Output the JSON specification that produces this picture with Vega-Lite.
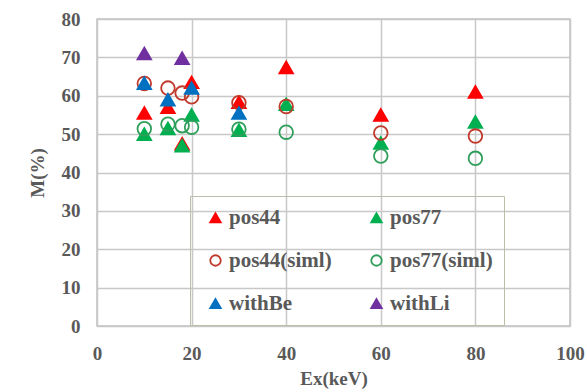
{
  "$schema": "https://vega.github.io/schema/vega-lite/v6.json",
  "autosize": "none",
  "width": 473,
  "height": 307,
  "padding": {"left": 97, "top": 19, "right": 17, "bottom": 66},
  "background": "white",
  "config": {
    "view": {"stroke": "#c0c0c0", "strokeWidth": 1.5},
    "font": "Liberation Serif",
    "legend": {
      "orient": "none",
      "legendX": 93,
      "legendY": 177,
      "columns": 2,
      "direction": "horizontal",
      "title": null,
      "strokeColor": "#bdbda8",
      "padding": 11,
      "columnPadding": 30,
      "rowPadding": 21,
      "labelFont": "Liberation Serif",
      "labelFontSize": 21,
      "labelFontWeight": "bold",
      "labelColor": "#595959",
      "labelOffset": 3,
      "labelLimit": 300,
      "symbolSize": 110,
      "symbolOffset": 4,
      "symbolStrokeWidth": 1.8,
      "gridAlign": "each"
    }
  },
  "data": {
    "values": [
      {"x": 10, "y": 55.5, "s": "pos44"},
      {"x": 15, "y": 57, "s": "pos44"},
      {"x": 18, "y": 47.5, "s": "pos44"},
      {"x": 20, "y": 63.5, "s": "pos44"},
      {"x": 30, "y": 58.3, "s": "pos44"},
      {"x": 40, "y": 67.4, "s": "pos44"},
      {"x": 60, "y": 55, "s": "pos44"},
      {"x": 80, "y": 61, "s": "pos44"},
      {"x": 10, "y": 50, "s": "pos77"},
      {"x": 15, "y": 51.5, "s": "pos77"},
      {"x": 18, "y": 47, "s": "pos77"},
      {"x": 20, "y": 55, "s": "pos77"},
      {"x": 30, "y": 51, "s": "pos77"},
      {"x": 40, "y": 57.8, "s": "pos77"},
      {"x": 60, "y": 47.7, "s": "pos77"},
      {"x": 80, "y": 53.2, "s": "pos77"},
      {"x": 10, "y": 63.2, "s": "pos44(siml)"},
      {"x": 15, "y": 62, "s": "pos44(siml)"},
      {"x": 18, "y": 60.7, "s": "pos44(siml)"},
      {"x": 20, "y": 59.7, "s": "pos44(siml)"},
      {"x": 30, "y": 58.2, "s": "pos44(siml)"},
      {"x": 40, "y": 57.2, "s": "pos44(siml)"},
      {"x": 60, "y": 50.3, "s": "pos44(siml)"},
      {"x": 80, "y": 49.5, "s": "pos44(siml)"},
      {"x": 10, "y": 51.4, "s": "pos77(siml)"},
      {"x": 15, "y": 52.6, "s": "pos77(siml)"},
      {"x": 18, "y": 52.2, "s": "pos77(siml)"},
      {"x": 20, "y": 51.8, "s": "pos77(siml)"},
      {"x": 30, "y": 51.3, "s": "pos77(siml)"},
      {"x": 40, "y": 50.5, "s": "pos77(siml)"},
      {"x": 60, "y": 44.3, "s": "pos77(siml)"},
      {"x": 80, "y": 43.7, "s": "pos77(siml)"},
      {"x": 10, "y": 63.3, "s": "withBe"},
      {"x": 15, "y": 59, "s": "withBe"},
      {"x": 20, "y": 62, "s": "withBe"},
      {"x": 30, "y": 55.5, "s": "withBe"},
      {"x": 10, "y": 71, "s": "withLi"},
      {"x": 18, "y": 69.8, "s": "withLi"}
    ]
  },
  "mark": {"type": "point", "size": 185, "strokeWidth": 1.8, "opacity": 1},
  "encoding": {
    "x": {
      "field": "x", "type": "quantitative",
      "scale": {"domain": [0, 100], "nice": false},
      "axis": {
        "values": [0, 20, 40, 60, 80, 100],
        "title": "Ex(keV)",
        "grid": true, "gridColor": "#c8c8c8", "gridWidth": 1.5,
        "domain": false, "ticks": false, "labelFlush": false,
        "labelFont": "Liberation Serif", "labelFontSize": 19, "labelFontWeight": "bold", "labelColor": "#595959",
        "labelPadding": 18,
        "titleFont": "Liberation Serif", "titleFontSize": 19, "titleFontWeight": "bold", "titleColor": "#595959",
        "titlePadding": 6
      }
    },
    "y": {
      "field": "y", "type": "quantitative",
      "scale": {"domain": [0, 80], "nice": false},
      "axis": {
        "values": [0, 10, 20, 30, 40, 50, 60, 70, 80],
        "title": "M(%)",
        "grid": true, "gridColor": "#c8c8c8", "gridWidth": 1.5,
        "domain": false, "ticks": false, "labelFlush": false,
        "labelFont": "Liberation Serif", "labelFontSize": 19, "labelFontWeight": "bold", "labelColor": "#595959",
        "labelPadding": 17,
        "titleFont": "Liberation Serif", "titleFontSize": 19, "titleFontWeight": "bold", "titleColor": "#595959",
        "titlePadding": 14
      }
    },
    "shape": {
      "field": "s", "type": "nominal",
      "scale": {
        "domain": ["pos44", "pos77", "pos44(siml)", "pos77(siml)", "withBe", "withLi"],
        "range": ["triangle-up", "triangle-up", "circle", "circle", "triangle-up", "triangle-up"]
      },
      "legend": {
        "title": null,
        "encode": {"labels": {"fill": {"condition": {"test": "datum.label === 'withLi'", "value": "#111111"}, "value": "#595959"}}}
      }
    },
    "fill": {
      "field": "s", "type": "nominal",
      "scale": {
        "domain": ["pos44", "pos77", "pos44(siml)", "pos77(siml)", "withBe", "withLi"],
        "range": ["#ff0000", "#00b050", "transparent", "transparent", "#0070c0", "#7030a0"]
      },
      "legend": {
        "title": null,
        "encode": {"labels": {"fill": {"condition": {"test": "datum.label === 'withLi'", "value": "#111111"}, "value": "#595959"}}}
      }
    },
    "stroke": {
      "field": "s", "type": "nominal",
      "scale": {
        "domain": ["pos44", "pos77", "pos44(siml)", "pos77(siml)", "withBe", "withLi"],
        "range": ["#ff0000", "#00b050", "#c0392b", "#2f9e5a", "#0070c0", "#7030a0"]
      },
      "legend": {
        "title": null,
        "encode": {"labels": {"fill": {"condition": {"test": "datum.label === 'withLi'", "value": "#111111"}, "value": "#595959"}}}
      }
    }
  }
}
